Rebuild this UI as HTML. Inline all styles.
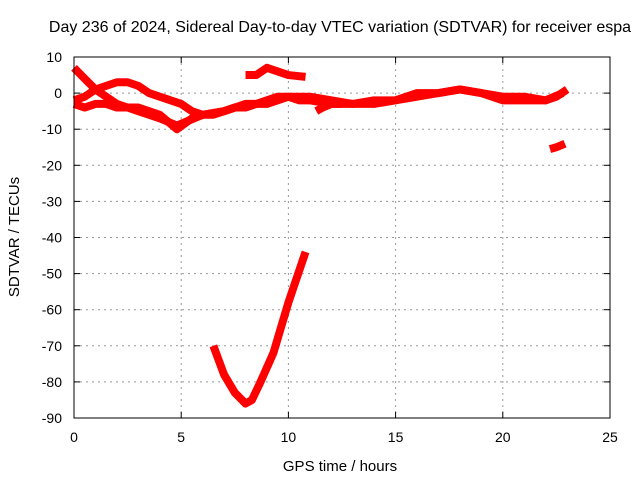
<!DOCTYPE html>
<html><head><meta charset="utf-8"><style>
body{margin:0;background:#fff}
svg{display:block;font-family:"Liberation Sans",sans-serif}
</style></head><body>
<svg id="chart" width="640" height="480" viewBox="0 0 640 480">
<text x="340" y="32" font-size="16" text-anchor="middle">Day 236 of 2024, Sidereal Day-to-day VTEC variation (SDTVAR) for receiver espa</text>
<text x="340" y="471" font-size="15" text-anchor="middle">GPS time / hours</text>
<text x="19" y="237" font-size="15" text-anchor="middle" transform="rotate(-90 19 237)">SDTVAR / TECUs</text>
<g id="grid"></g><g id="series"></g>
<rect x="74" y="57" width="536" height="361" fill="none" stroke="#000" stroke-width="1"/>
<g id="ticks"></g>
</svg>
<script>
const xTicks=[0,5,10,15,20,25];
const yTicks=[10,0,-10,-20,-30,-40,-50,-60,-70,-80,-90];
const seriesA_x=[0,0.5,1,1.5,2,2.5,3,4,4.8,5.2,6,7,8,9,10,11,12,13,14,15,16,17,18,19,20,21,22,22.5,23];
const seriesA_y=[7,4,1,-1,-3,-4,-5,-7,-9,-8,-6,-5,-3,-3,-1,-1,-2,-3,-3,-2,0,0,1,0,-1,-1,-2,-1,1];
const seriesB_x=[0,0.5,1,1.5,2,2.5,3,3.5,4,4.5,5,5.5,6,6.5,7,7.5,8,8.5,9,9.5,10,10.5,11,12,13,14,15,16,17,18,19,20,21,22,22.8];
const seriesB_y=[-2,-1,1,2,3,3,2,0,-1,-2,-3,-5,-6,-6,-5,-4,-4,-3,-2,-1,-1,-2,-2,-3,-3,-2,-2,-1,0,1,0,-2,-2,-2,0];
const seriesC_x=[0,0.5,1,1.5,2,3,4,4.8,5.5,6,7,7.5];
const seriesC_y=[-3,-4,-3,-3,-4,-4,-6,-10,-7,-6,-5,-4];
const seriesD_x=[11.3,11.6,12,12.5];
const seriesD_y=[-5,-4,-3,-3];
const seriesE_x=[8,8.5,9,9.5,10,10.8];
const seriesE_y=[5,5,7,6,5,4.5];
const seriesF_x=[22.2,22.5,22.9];
const seriesF_y=[-15.5,-15,-14];
const seriesG_x=[6.5,7,7.5,8,8.3,8.7,9.3,10,10.8];
const seriesG_y=[-70,-78,-83,-86,-85,-80,-72,-58,-44];
const series=[[seriesA_x,seriesA_y,'series-a'],[seriesB_x,seriesB_y,'series-b'],[seriesC_x,seriesC_y,'series-c'],[seriesD_x,seriesD_y,'series-d'],[seriesE_x,seriesE_y,'series-e'],[seriesF_x,seriesF_y,'series-f'],[seriesG_x,seriesG_y,'series-g']];
const X=v=>74+v*536/25, Y=v=>57+(10-v)*361/100;
const NS='http://www.w3.org/2000/svg';
const grid=document.getElementById('grid'),ticks=document.getElementById('ticks'),sg=document.getElementById('series');
function mk(t,a,p){const e=document.createElementNS(NS,t);for(const k in a)e.setAttribute(k,a[k]);p.appendChild(e);return e;}
xTicks.forEach(v=>{const x=X(v);
 if(v>0&&v<25){const g=mk('line',{x1:x,x2:x,y1:57,y2:418,stroke:'#999','stroke-dasharray':'2,4'},grid);
 
 }
 mk('line',{x1:x,x2:x,y1:418,y2:412,stroke:'#000'},ticks);mk('line',{x1:x,x2:x,y1:57,y2:63,stroke:'#000'},ticks);
 const t=mk('text',{x:x,y:442,'font-size':14,'text-anchor':'middle'},ticks);t.textContent=v;
 
 });
yTicks.forEach(v=>{const y=Y(v);
 if(v<10&&v>-90){const g=mk('line',{x1:74,x2:610,y1:y,y2:y,stroke:'#999','stroke-dasharray':'2,4'},grid);
 
 }
 mk('line',{x1:74,x2:80,y1:y,y2:y,stroke:'#000'},ticks);mk('line',{x1:610,x2:604,y1:y,y2:y,stroke:'#000'},ticks);
 const t=mk('text',{x:62,y:y+5,'font-size':14,'text-anchor':'end'},ticks);t.textContent=v;
 
 });
series.forEach(([xs,ys,n])=>{
 const p=mk('polyline',{points:xs.map((x,i)=>X(x)+','+Y(ys[i])).join(' '),fill:'none',stroke:'#f00','stroke-width':8,'stroke-linejoin':'round'},sg);
 
 });
</script>
</body></html>
